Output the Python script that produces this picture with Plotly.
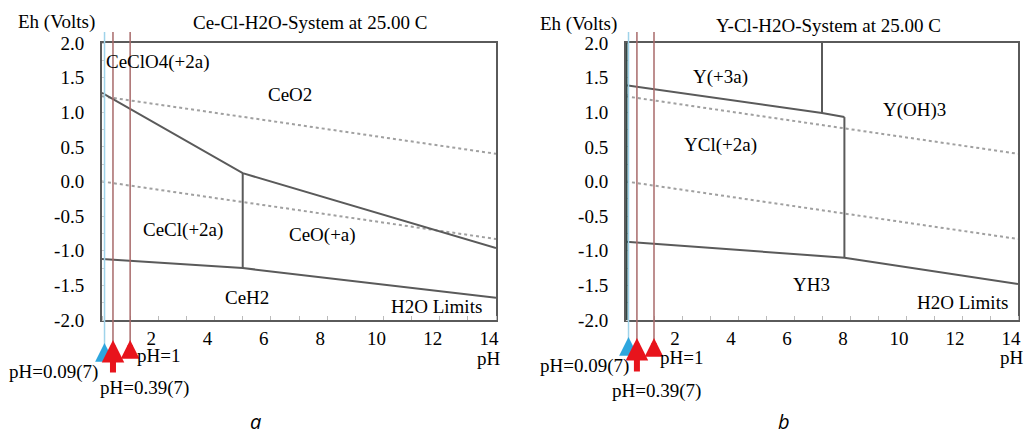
import plotly.graph_objects as go

W, H = 1024, 437

# ---------------- data ----------------
ph_range = [0, 14]
eh_range = [-2, 2]
x_tick_vals = [2, 4, 6, 8, 10, 12, 14]
y_tick_vals = [2.0, 1.5, 1.0, 0.5, 0.0, -0.5, -1.0, -1.5, -2.0]

water_ph = [0, 14]
water_upper_eh = [1.23, 0.40]
water_lower_eh = [0.0, -0.83]

# Ce-Cl-H2O boundaries
ce_upper_ph = [0, 5.0, 14]
ce_upper_eh = [1.28, 0.12, -0.96]
ce_lower_ph = [0, 5.0, 14]
ce_lower_eh = [-1.12, -1.25, -1.68]
ce_split_ph = [5.0, 5.0]
ce_split_eh = [0.12, -1.25]

# Y-Cl-H2O boundaries
y_upper_ph = [0, 7.0, 7.8]
y_upper_eh = [1.39, 0.99, 0.93]
y_top_split_ph = [7.0, 7.0]
y_top_split_eh = [2.0, 0.99]
y_split_ph = [7.8, 7.8]
y_split_eh = [0.93, -1.10]
y_lower_ph = [0, 7.8, 14]
y_lower_eh = [-0.87, -1.10, -1.48]

marker_ph = [0.09, 0.39, 1.0]
marker_labels = ["pH=0.09(7)", "pH=0.39(7)", "pH=1"]

ce_fields = ["CeClO4(+2a)", "CeO2", "CeCl(+2a)", "CeO(+a)", "CeH2", "H2O Limits"]
ce_field_ph = [2.0, 6.68, 2.88, 7.85, 5.15, 11.9]
ce_field_eh = [1.73, 1.25, -0.70, -0.77, -1.68, -1.81]

y_fields = ["Y(+3a)", "Y(OH)3", "YCl(+2a)", "YH3", "H2O Limits"]
y_field_ph = [3.39, 10.3, 3.39, 6.64, 12.0]
y_field_eh = [1.51, 1.03, 0.53, -1.49, -1.75]

titles = ["Ce-Cl-H2O-System at 25.00 C", "Y-Cl-H2O-System at 25.00 C"]
panel_letters = ["a", "b"]

# ---------------- style ----------------
SERIF = "Liberation Serif, Times New Roman, serif"
FS = 19
BOUND = "#5a5a5a"
DOT = "#a0a0a0"
MARK_LINE = "#a86a6a"
BLUE_LINE = "#9fd3ea"
RED = "#e8141c"
BLUE = "#2ea6de"


def px(x):
    return x / W


def py(y):
    return 1 - y / H


fig = go.Figure()

panels = [
    dict(xa="x", ya="y", dom=[px(102), px(496)]),
    dict(xa="x2", ya="y2", dom=[px(626), px(1018)]),
]


def add_line(xs, ys, xa, ya, color=BOUND, width=2, dash="solid"):
    fig.add_trace(go.Scatter(x=xs, y=ys, xaxis=xa, yaxis=ya, mode="lines",
                             line=dict(color=color, width=width, dash=dash),
                             hoverinfo="skip", showlegend=False))


for p in panels:
    add_line(water_ph, water_upper_eh, p["xa"], p["ya"], DOT, 2, "dot")
    add_line(water_ph, water_lower_eh, p["xa"], p["ya"], DOT, 2, "dot")

# panel a
add_line(ce_upper_ph, ce_upper_eh, "x", "y")
add_line(ce_lower_ph, ce_lower_eh, "x", "y")
add_line(ce_split_ph, ce_split_eh, "x", "y")
# panel b
add_line(y_upper_ph, y_upper_eh, "x2", "y2")
add_line(y_top_split_ph, y_top_split_eh, "x2", "y2")
add_line(y_split_ph, y_split_eh, "x2", "y2")
add_line(y_lower_ph, y_lower_eh, "x2", "y2")

ydom = [py(320), py(43)]
axis_common = dict(showgrid=False, zeroline=False, showline=True, mirror=True,
                   linecolor=BOUND, linewidth=2, automargin=False,
                   tickfont=dict(family=SERIF, size=FS, color="black"))

layout = dict(template="none", width=W, height=H, autosize=False,
              margin=dict(l=0, r=0, t=0, b=0, pad=0, autoexpand=False),
              paper_bgcolor="white", plot_bgcolor="white", showlegend=False)

y_tick_text = ["%.1f" % v for v in y_tick_vals]

for i, p in enumerate(panels):
    sx = "" if i == 0 else "2"
    layout["xaxis" + sx] = dict(axis_common, domain=p["dom"], range=ph_range,
                                anchor="y" + sx, tickvals=x_tick_vals,
                                ticks="", ticklabelshift=-7, ticklabelstandoff=0,
                                minor=dict(ticks="inside", dtick=1, ticklen=4,
                                           tickcolor="#bbbbbb", tickwidth=1))
    layout["yaxis" + sx] = dict(axis_common, domain=ydom, range=eh_range,
                                anchor="x" + sx, tickvals=y_tick_vals,
                                ticktext=y_tick_text, ticks="", ticklabelstandoff=12,
                                minor=dict(ticks="inside", dtick=0.25, ticklen=3,
                                           tickcolor="#cccccc", tickwidth=1))

fig.update_layout(**layout)

annotations = []
shapes = []


def text_ann(x, y, text, xref="paper", yref="paper", size=FS, family=SERIF,
             xanchor="center", yanchor="middle"):
    annotations.append(dict(x=x, y=y, xref=xref, yref=yref, text=text, showarrow=False,
                            xanchor=xanchor, yanchor=yanchor,
                            font=dict(family=family, size=size, color="black")))


# field labels
for name, x, y in zip(ce_fields, ce_field_ph, ce_field_eh):
    text_ann(x, y, name, "x", "y")
for name, x, y in zip(y_fields, y_field_ph, y_field_eh):
    text_ann(x, y, name, "x2", "y2")

# titles and axis labels
text_ann(px(310), py(23), titles[0])
text_ann(px(828), py(25), titles[1])
text_ann(px(56), py(22), "Eh (Volts)")
text_ann(px(578), py(24), "Eh (Volts)")
text_ann(px(489), py(358), "pH")
text_ann(px(1012), py(357), "pH")
text_ann(px(255), py(437), "<i>" + panel_letters[0] + "</i>", size=20, family="Open Sans",
         yanchor="bottom")
text_ann(px(784), py(437), "<i>" + panel_letters[1] + "</i>", size=20, family="Open Sans",
         yanchor="bottom")

# pH marker labels
label_pos = [
    [(53, 372), (144, 388), (158, 355)],
    [(584, 366), (656, 391), (681, 357)],
]
arrow_geom = [
    # (tip_y, tail_y, width, color) per marker
    [(343, 358, 5, BLUE), (340, 374, 6, RED), (340, 354, 5, RED)],
    [(337, 349, 5, BLUE), (338, 373, 6, RED), (338, 351, 5, RED)],
]
for i, p in enumerate(panels):
    for j, ph in enumerate(marker_ph):
        tip, tail, w, col = arrow_geom[i][j]
        lc = BLUE_LINE if j == 0 else MARK_LINE
        shapes.append(dict(type="line", xref=p["xa"], yref="paper", x0=ph, x1=ph,
                           y0=py(32), y1=py(tip + 2), line=dict(color=lc, width=1.5)))
        annotations.append(dict(x=ph, y=py(tip), xref=p["xa"], yref="paper",
                                ax=0, ay=tail - tip, axref="pixel", ayref="pixel",
                                text="", showarrow=True, arrowhead=2, arrowsize=0.75,
                                arrowwidth=w, arrowcolor=col))
        lx, ly = label_pos[i][j]
        text_ann(px(lx), py(ly), marker_labels[j])

# thicker dark left axis on panel b
shapes.append(dict(type="line", xref="x2", yref="paper", x0=0, x1=0,
                   y0=ydom[0], y1=ydom[1], line=dict(color="#2f4a48", width=3)))

fig.update_layout(annotations=annotations, shapes=shapes)
fig.write_html("out.html", config={"displayModeBar": False},
               post_script="document.body.style.margin='0';document.body.style.overflow='hidden';")
